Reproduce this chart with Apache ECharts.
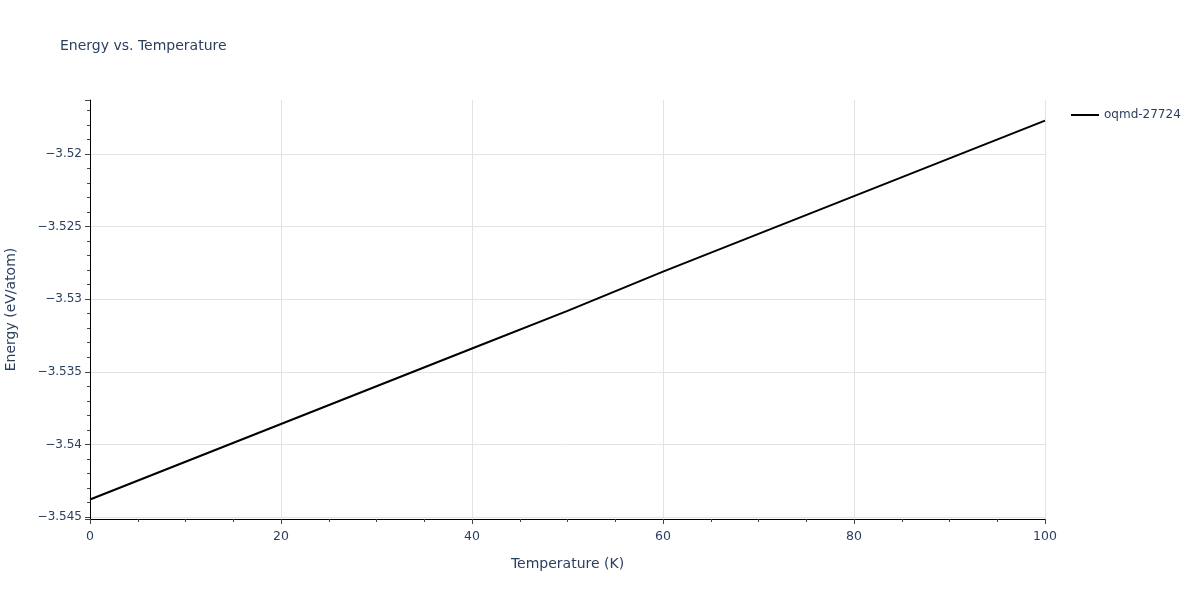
<!DOCTYPE html>
<html>
<head>
<meta charset="utf-8">
<script src="https://cdn.jsdelivr.net/npm/echarts@6/dist/echarts.min.js"></script>
<style>
  html, body { margin: 0; padding: 0; background: #fff; }
  #chart { width: 1200px; height: 600px; }
</style>
</head>
<body>
<div id="chart"></div>
<script>
// temperature (K) and energy (eV/atom)
var temps = [0, 10, 20, 30, 40, 50, 60, 70, 80, 90, 100];
var energy = [-3.5438, -3.5412, -3.5386, -3.5360, -3.5334, -3.5308, -3.5281, -3.5255, -3.5229, -3.5203, -3.5177];
var seriesName = 'oqmd-27724';
var xTicks = [0, 20, 40, 60, 80, 100];

var textColor = '#2a3f5f';
var font = '"DejaVu Sans", Verdana, sans-serif';

var chart = echarts.init(document.getElementById('chart'));

var points = temps.map(function (t, i) { return [t, energy[i]]; });

chart.setOption({
  animation: false,
  backgroundColor: '#fff',
  title: {
    text: 'Energy vs. Temperature',
    left: 55,
    top: 34,
    textStyle: { color: textColor, fontSize: 14, fontWeight: 'normal', fontFamily: font }
  },
  legend: {
    data: [seriesName],
    left: 1066,
    top: 104,
    icon: 'rect',
    itemWidth: 28,
    itemHeight: 2,
    itemGap: 6,
    textStyle: { color: textColor, fontSize: 12, fontFamily: font }
  },
  grid: { left: 90, right: 155, top: 100, bottom: 81, outerBoundsMode: 'none' },
  xAxis: {
    type: 'value',
    min: xTicks[0],
    max: xTicks[xTicks.length - 1],
    interval: 20,
    name: 'Temperature (K)',
    nameLocation: 'middle',
    nameGap: 38,
    nameTextStyle: { color: textColor, fontSize: 14, fontFamily: font },
    axisLine: { show: true, lineStyle: { color: '#000', width: 1 } },
    axisTick: { show: true, length: 5, lineStyle: { color: '#444' } },
    minorTick: { show: true, splitNumber: 4, length: 3, lineStyle: { color: '#444' } },
    axisLabel: { color: textColor, fontSize: 12.5, fontFamily: font, margin: 11 },
    splitLine: { show: true, lineStyle: { color: '#e3e3e3', width: 1 } }
  },
  yAxis: {
    type: 'value',
    min: -3.54514,
    max: -3.51628,
    splitNumber: 6,
    name: 'Energy (eV/atom)',
    nameLocation: 'middle',
    nameGap: 72,
    nameTextStyle: { color: textColor, fontSize: 14, fontFamily: font },
    axisLine: { show: true, lineStyle: { color: '#000', width: 1 } },
    axisTick: { show: true, length: 5, lineStyle: { color: '#444' } },
    minorTick: { show: true, splitNumber: 5, length: 3, lineStyle: { color: '#444' } },
    axisLabel: {
      color: textColor, fontSize: 12, fontFamily: font, margin: 8,
      showMinLabel: true, showMaxLabel: true,
      formatter: function (v) {
        var k = v * 200;
        if (Math.abs(k - Math.round(k)) > 1e-6) return '';
        return String(+v.toFixed(3)).replace('-', '\u2212');
      }
    },
    splitLine: { show: true, showMinLine: false, showMaxLine: false, lineStyle: { color: '#e3e3e3', width: 1 } }
  },
  series: [{
    name: seriesName,
    type: 'line',
    data: points,
    showSymbol: false,
    symbol: 'none',
    lineStyle: { color: '#000', width: 2 },
    itemStyle: { color: '#000' }
  }]
});
</script>
</body>
</html>
